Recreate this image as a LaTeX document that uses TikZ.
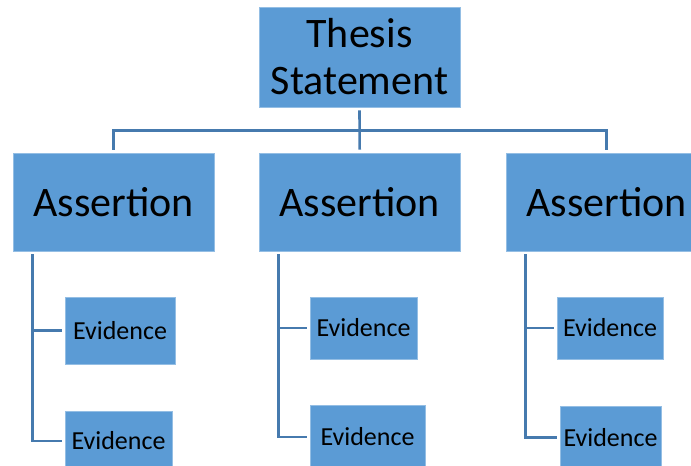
\documentclass[tikz,border=0pt]{standalone}
\usepackage{fontspec}
\setmainfont{Carlito}
\usepackage{xcolor}
\usepackage{tikz}
\definecolor{boxblue}{RGB}{91,155,213}
\definecolor{linkblue}{RGB}{70,122,174}
\tikzset{
  tsbox/.style={fill=boxblue, draw=boxblue!65!white, line width=0.6pt, inner sep=0pt, align=center},
  tsbig/.style={tsbox, font=\fontsize{42}{47}\selectfont},
  tsev/.style={tsbox, font=\fontsize{26}{30}\selectfont},
  tslink/.style={line width=2.6pt, draw=linkblue, line cap=butt},
}
\begin{document}
\begin{tikzpicture}[x=1pt,y=-1pt]
\clip (0,0) rectangle (691,466);
% thesis and assertions
\node[tsbig, minimum width=201pt, minimum height=100pt] (thesis) at (359.5,57) {Thesis\\Statement};
\node[tsbig, minimum width=201pt, minimum height=98pt] (a1) at (113.5,202) {Assertion};
\node[tsbig, minimum width=201pt, minimum height=98pt] (a2) at (359.7,202) {Assertion};
\node[tsbig, minimum width=201pt, minimum height=98pt] (a3) at (606.5,202) {Assertion};
% evidence
\node[tsev, minimum width=110pt, minimum height=67pt] (e11) at (120,330.5) {Evidence};
\node[tsev, minimum width=107pt, minimum height=60pt] (e12) at (118.5,441) {Evidence};
\node[tsev, minimum width=107pt, minimum height=62pt] (e21) at (363.5,328) {Evidence};
\node[tsev, minimum width=115pt, minimum height=64pt] (e22) at (367.5,437) {Evidence};
\node[tsev, minimum width=106pt, minimum height=62pt] (e31) at (610,328) {Evidence};
\node[tsev, minimum width=101pt, minimum height=63pt] (e32) at (610.5,437.7) {Evidence};
% links
\coordinate (bar) at (0,130.5);
\draw[tslink] ([yshift=3pt]a1.north) -- (a1.north |- bar) -- (a3.north |- bar) -- ([yshift=3pt]a3.north);
\draw[tslink] ([yshift=-3pt]thesis.south) -- ([yshift=3pt]a2.north);
\foreach \a/\e in {a1/e11, a1/e12, a2/e21, a2/e22, a3/e31, a3/e32}
  \draw[tslink] ([xshift=19.5pt,yshift=-3pt]\a.south west) |- ([xshift=-3pt]\e.west);
\end{tikzpicture}
\end{document}
